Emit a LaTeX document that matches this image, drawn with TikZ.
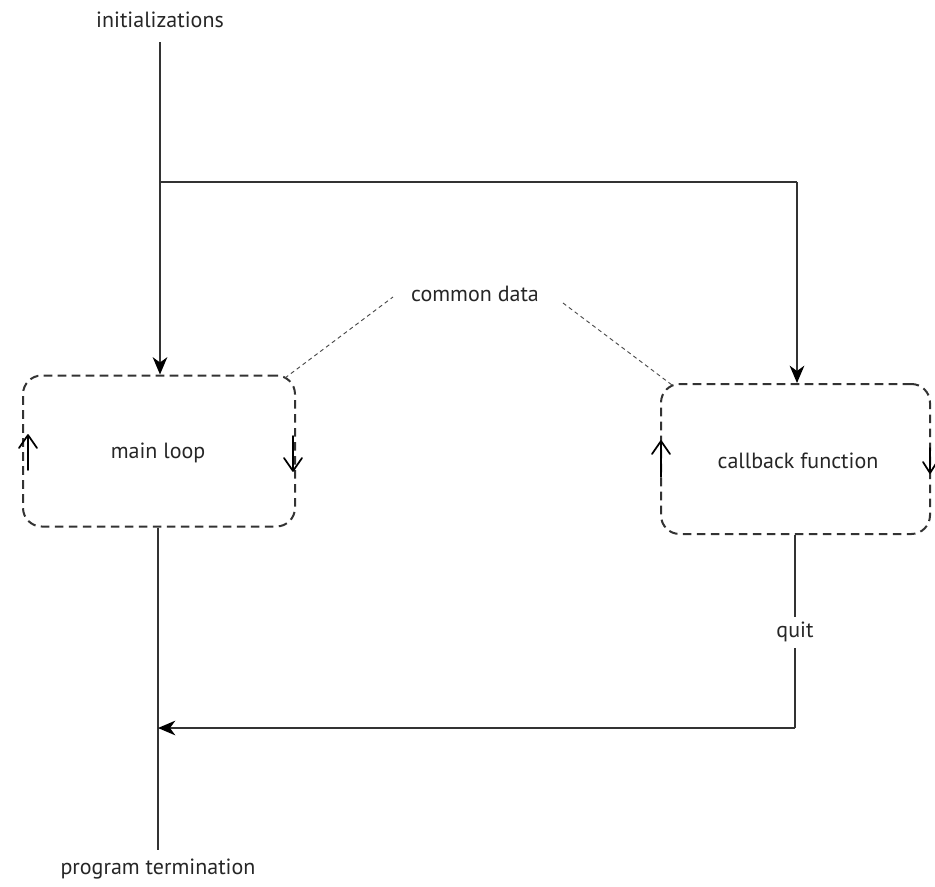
\documentclass[tikz,border=0pt]{standalone}
\usepackage{fontspec}
\setmainfont{PT Sans}
\usetikzlibrary{arrows.meta}
\tikzset{
  loopbox/.style={draw=black!80, line width=1.5pt, dash pattern=on 6.5pt off 4pt, rounded corners=14pt},
  flow/.style={draw=black!80, line width=1.1pt},
  arr/.style={flow, -{Stealth[length=13pt,width=11pt,inset=4pt,color=black]}},
  spin/.style={draw=black, line width=1.3pt, line cap=round, line join=round},
  link/.style={draw=black!70, line width=0.7pt, dash pattern=on 3pt off 2.5pt},
  lbl/.style={font=\fontsize{16.5}{19}\selectfont, text=black!85, inner sep=2pt}
}
\begin{document}
\begin{tikzpicture}[x=0.75pt,y=-0.75pt]
\useasboundingbox (0,0) rectangle (935,886);
% texts
\node[lbl] (init) at (160,20) {initializations};
\node[lbl] (common) at (475,294) {common data};
\node[lbl] (term) at (158,869) {program termination};
\node[lbl] (quit) at (795,632) {quit};
% boxes
\node[loopbox, minimum width=272*0.75pt, minimum height=151*0.75pt] (main) at (159,451) {};
\node[lbl] (maintxt) at (158,453) {main loop};
\node[loopbox, minimum width=269*0.75pt, minimum height=150*0.75pt] (cb) at (795.5,459) {};
\node[lbl] (cbtxt) at (798,461) {callback function};
% coordinates
\coordinate (j1) at (160,182);
\coordinate (j2) at (797,182);
\coordinate (j3) at (158,728);
\coordinate (j4) at (795,728);
\coordinate (tend) at (158,850);
\coordinate (iend) at (160,42);
\coordinate (l1a) at (285,378);
\coordinate (l1b) at (393,297);
\coordinate (l2a) at (563,303);
\coordinate (l2b) at (672,385);
% flows
\draw[flow] (iend) -- (j1);
\draw[arr] (j1) -- (main.north -| j1);
\draw[flow] (j1) -- (j2);
\draw[arr] (j2) -- (cb.north -| j2);
\draw[flow] (main.south -| j3) -- (tend);
\draw[flow] (cb.south -| j4) -- (795,617);
\draw[flow] (795,648) -- (j4);
\draw[arr] (j4) -- (j3);
% common data links
\draw[link] (l1a) -- (l1b);
\draw[link] (l2a) -- (l2b);
% loop arrows (open V heads)
\coordinate (a1s) at (28,470); \coordinate (a1e) at (28,435);
\coordinate (a2s) at (293,436); \coordinate (a2e) at (293,471);
\coordinate (a3s) at (661,477); \coordinate (a3e) at (661,441);
\coordinate (a4s) at (930,448); \coordinate (a4e) at (930,473);
\draw[spin] (a1s) -- (a1e) ++(-9,13) -- (a1e) -- ++(9,13);
\draw[spin] (a2s) -- (a2e) ++(-9,-13) -- (a2e) -- ++(9,-13);
\draw[spin] (a3s) -- (a3e) ++(-9,13) -- (a3e) -- ++(9,13);
\draw[spin] (a4s) -- (a4e) ++(-7,-11) -- (a4e) -- ++(7,-11);
\end{tikzpicture}
\end{document}
